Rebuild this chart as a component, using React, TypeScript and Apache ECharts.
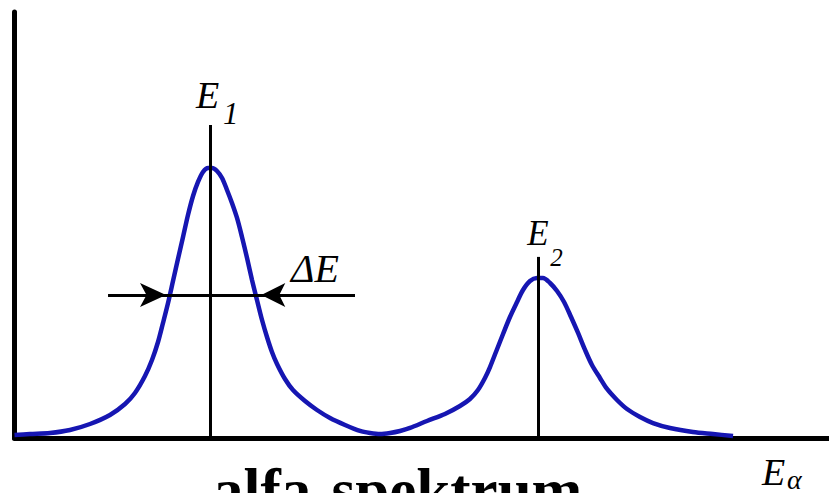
import { useEffect, useRef } from "react";
import * as echarts from "echarts";

// Alpha spectrum: detector counts against alpha energy (arbitrary units, 0–100)
const energy = [
  0, 1.9, 4.36, 6.81, 9.27, 11.72, 13.57, 14.79, 16.02, 16.88, 17.62, 18.23, 18.85,
  19.46, 20.07, 20.69, 21.3, 21.92, 22.53, 23.14, 23.76, 24.25, 24.86, 25.48, 26.09,
  26.7, 27.32, 27.93, 28.55, 29.16, 29.77, 30.39, 31.0, 31.61, 32.23, 33.21, 34.19,
  35.67, 37.14, 38.74, 40.58, 42.42, 43.65, 44.88, 46.11, 47.33, 48.56, 50.64, 52.85,
  54.69, 55.92, 56.9, 57.76, 58.38, 59.11, 59.98, 60.83, 61.7, 62.43, 63.29, 64.15,
  64.88, 65.75, 66.61, 67.47, 68.33, 69.19, 70.05, 70.9, 71.88, 72.75, 73.97, 75.2,
  76.8, 78.39, 80.48, 83.3, 85.76, 88.22,
];
const counts = [
  0.7, 0.93, 1.17, 1.87, 3.27, 5.37, 7.94, 10.51, 14.48, 18.22, 22.42, 26.86, 31.53,
  36.67, 41.81, 46.95, 52.09, 56.53, 59.8, 62.14, 63.07, 63.07, 62.37, 60.73, 57.93,
  54.89, 51.39, 46.95, 42.04, 36.91, 32.24, 27.56, 23.59, 20.09, 17.29, 13.78, 11.21,
  8.64, 6.54, 4.67, 3.04, 1.64, 1.17, 0.93, 1.17, 1.64, 2.34, 3.97, 5.61,
  7.47, 9.11, 11.21, 14.02, 16.58, 20.09, 24.29, 28.26, 31.77, 34.57, 36.67, 37.37,
  37.37, 36.21, 34.34, 31.77, 28.26, 24.53, 20.56, 17.05, 14.02, 11.45, 8.88, 6.77,
  4.91, 3.5, 2.34, 1.4, 0.93, 0.47,
];

// Peak markers E1, E2
const peakEnergies = [24.0, 64.3];
const peakLineTops = [73.1, 42.3];
const peakSubscripts = ["1", "2"];

// Resolution (FWHM) marker ΔE around the first peak
const fwhmLevel = 33.4;
const fwhmLineFrom = 11.5;
const fwhmLineTo = 41.8;
const fwhmLeftArrow = 18.6;
const fwhmRightArrow = 30.3;

const axisLabel = "E";
const axisSubscript = "α";
const deltaLabel = "ΔE";
const title = "alfa-spektrum";

const BLUE = "#1616b2";
const SERIF = "'Liberation Serif', 'Times New Roman', 'DejaVu Serif', serif";

export default function App() {
  const ref = useRef<HTMLDivElement>(null);

  useEffect(() => {
    if (!ref.current) return;
    const chart = echarts.init(ref.current, undefined, { renderer: "svg" });

    const option: any = {
      animation: false,
      backgroundColor: "#ffffff",
      textStyle: { fontFamily: SERIF },
      grid: { left: 14.5, right: 0, top: 12, bottom: 55 },
      xAxis: {
        type: "value",
        min: 0,
        max: 100,
        axisLine: { show: true, lineStyle: { color: "#000", width: 5 } },
        axisTick: { show: false },
        axisLabel: { show: false },
        splitLine: { show: false },
      },
      yAxis: {
        type: "value",
        min: 0,
        max: 99.5,
        axisLine: { show: true, lineStyle: { color: "#000", width: 5 } },
        axisTick: { show: false },
        axisLabel: { show: false },
        splitLine: { show: false },
      },
      series: [
        {
          type: "line",
          data: [],
          silent: true,
          markLine: {
            silent: true,
            symbol: "none",
            label: { show: false },
            lineStyle: { color: "#000", width: 3, type: "solid" },
            data: [
              ...peakEnergies.map((e, i) => [
                { coord: [e, 0] },
                { coord: [e, peakLineTops[i]] },
              ]),
              [{ coord: [fwhmLineFrom, fwhmLevel] }, { coord: [fwhmLineTo, fwhmLevel] }],
              [
                { coord: [fwhmLineFrom, fwhmLevel], symbol: "none" },
                { coord: [fwhmLeftArrow, fwhmLevel], symbol: "arrow", symbolSize: [18, 26] },
              ],
              [
                { coord: [fwhmLineTo, fwhmLevel], symbol: "none" },
                { coord: [fwhmRightArrow, fwhmLevel], symbol: "arrow", symbolSize: [18, 24] },
              ],
            ],
          },
          z: 2,
        },
        {
          type: "line",
          data: energy.map((e, i) => [e, counts[i]]),
          smooth: 0.3,
          showSymbol: false,
          silent: true,
          lineStyle: { color: BLUE, width: 4.5 },
          z: 3,
        },
      ],
    };
    chart.setOption(option);

    // Text labels placed relative to the marker lines
    const p1 = chart.convertToPixel({ gridIndex: 0 }, [peakEnergies[0], peakLineTops[0]]);
    const p2 = chart.convertToPixel({ gridIndex: 0 }, [peakEnergies[1], peakLineTops[1]]);
    const pd = chart.convertToPixel({ gridIndex: 0 }, [fwhmLineTo, fwhmLevel]);
    const txt = (text: string, x: number, y: number, size: number, weight = "normal", style = "italic") => ({
      type: "text",
      x,
      y,
      silent: true,
      style: {
        text,
        font: `${style} ${weight} ${size}px ${SERIF}`,
        fill: "#000",
        align: "left",
        verticalAlign: "middle",
      },
    });

    chart.setOption({
      graphic: [
        txt(axisLabel, p1[0] - 14, p1[1] - 30, 38),
        txt(peakSubscripts[0], p1[0] + 13, p1[1] - 12, 31),
        txt(axisLabel, p2[0] - 11, p2[1] - 23, 35),
        txt(peakSubscripts[1], p2[0] + 12, p2[1] + 1, 25),
        txt(deltaLabel, pd[0] - 64, pd[1] - 27, 40),
        txt(axisLabel, 762, 472, 38),
        txt(axisSubscript, 787, 479, 28),
        txt(title, 213, 490, 61, "bold", "normal"),
      ],
    });

    return () => chart.dispose();
  }, []);

  return (
    <div
      ref={ref}
      style={{ position: "absolute", left: 0, top: 0, width: 829, height: 493, background: "#fff" }}
    />
  );
}
